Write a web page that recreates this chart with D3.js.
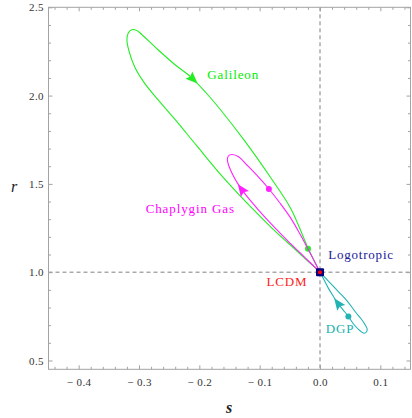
<!DOCTYPE html>
<html><head><meta charset="utf-8">
<script src="https://cdn.jsdelivr.net/npm/d3@7"></script>
<style>
html,body{margin:0;padding:0;background:#fff;}
svg{display:block;}
</style></head>
<body>
<svg id="chart" width="412" height="418"></svg>
<script>
// ---- data ----
const xTicks = [-0.4, -0.3, -0.2, -0.1, 0.0, 0.1];
const yTicks = [0.5, 1.0, 1.5, 2.0, 2.5];

const galileonS = [0, -0.0382, -0.0797, -0.1212, -0.1627, -0.2041, -0.2407, -0.2705, -0.2905, -0.3071, -0.3170, -0.3200,
  -0.3178, -0.3120, -0.3037, -0.2954, -0.2689, -0.2407, -0.2141, -0.1826, -0.1261, -0.0813, -0.0481, -0.0199, 0];
const galileonR = [1.0, 1.120, 1.250, 1.392, 1.545, 1.715, 1.867, 1.984, 2.069, 2.162, 2.258, 2.315,
  2.354, 2.373, 2.369, 2.346, 2.261, 2.176, 2.105, 1.992, 1.749, 1.533, 1.358, 1.137, 1.0];

const chaplyginS = [0, -0.0249, -0.0498, -0.0730, -0.0963, -0.1162, -0.1328, -0.1444, -0.1510, -0.1535, -0.1519, -0.1461,
  -0.1344, -0.1212, -0.1029, -0.0846, -0.0664, -0.0498, -0.0332, -0.0199, -0.0100, 0];
const chaplyginR = [1.0, 1.083, 1.165, 1.245, 1.330, 1.409, 1.483, 1.551, 1.601, 1.635, 1.658, 1.666,
  1.652, 1.607, 1.542, 1.471, 1.392, 1.313, 1.216, 1.131, 1.066, 1.0];

const dgpS = [0, 0.0150, 0.0304, 0.0449, 0.0581, 0.0681, 0.0748, 0.0781, 0.0772, 0.0731, 0.0664, 0.0565,
  0.0470, 0.0382, 0.0294, 0.0216, 0.0138, 0.0066, 0];
const dgpR = [1.0, 0.9452, 0.8904, 0.8379, 0.7774, 0.7362, 0.7023, 0.6797, 0.6627, 0.6542, 0.6684, 0.7023,
  0.7492, 0.7870, 0.8249, 0.8661, 0.9096, 0.9565, 1.0];

const modelNames = ["Galileon", "Chaplygin Gas", "DGP"];
const modelDotS = [-0.0199, -0.0847, 0.0470];
const modelDotR = [1.132, 1.471, 0.749];
const modelArrowS = [-0.2108, -0.1290, 0.0294];
const modelArrowR = [2.094, 1.470, 0.823];
const modelLabelS = [-0.187, -0.289, 0.0095];
const modelLabelR = [2.095, 1.335, 0.655];

const lcdmS = [0], lcdmR = [1.0];
const logoS = [0], logoR = [1.0];
const pointLabels = ["Logotropic", "LCDM"];
const pointLabelS = [0.0135, -0.0885];
const pointLabelR = [1.074, 0.922];

// ---- styles ----
const serif = "'Liberation Serif', 'Times New Roman', 'DejaVu Serif', serif";
const colors = {"Galileon":"#00ee00", "Chaplygin Gas":"#ff00ff", "DGP":"#17b0b0"};
const curveColors = {"Galileon":"#22ee22", "Chaplygin Gas":"#ff22ff", "DGP":"#22b4b4"};
const labelColors = {"Logotropic":"#1a1a9a", "LCDM":"#ff1a1a"};

const svg = d3.select("#chart");
const L = 48.5, R = 410.5, T = 7.3, B = 369.3;
const x = d3.scaleLinear().domain([-0.45, 0.15]).range([L, R]);
const y = d3.scaleLinear().domain([0.45, 2.5]).range([B, T]);

const fmt = d => (d < 0 ? "\u2212 " + Math.abs(d).toFixed(1) : d.toFixed(1));
const xMinor = d3.range(-44, 15, 2).map(v => v / 100).filter(v => !xTicks.some(t => Math.abs(t - v) < 1e-9));
const yMinor = d3.range(5, 25, 1).map(v => v / 10).filter(v => !yTicks.some(t => Math.abs(t - v) < 1e-9));

const frameColor = "#a3a3a3";
svg.append("defs").append("clipPath").attr("id", "clip")
  .append("rect").attr("x", L).attr("y", T).attr("width", R - L).attr("height", B - T);

// dashed reference lines
svg.append("line").attr("x1", x(0)).attr("x2", x(0)).attr("y1", T).attr("y2", B)
  .attr("stroke", "#808080").attr("stroke-width", 1).attr("stroke-dasharray", "4,3");
svg.append("line").attr("x1", L).attr("x2", R).attr("y1", y(1)).attr("y2", y(1))
  .attr("stroke", "#808080").attr("stroke-width", 1).attr("stroke-dasharray", "4,3");

function styleAxis(g) {
  g.select(".domain").remove();
  g.selectAll(".tick line").attr("stroke", frameColor);
  g.selectAll(".tick text").attr("fill", "#333").attr("font-family", serif)
    .attr("font-size", 11).attr("letter-spacing", "0.4px");
}
// major axes
svg.append("g").attr("transform", `translate(0,${B})`)
  .call(d3.axisBottom(x).tickValues(xTicks).tickFormat(fmt).tickSizeInner(-4).tickSizeOuter(0).tickPadding(9)).call(styleAxis);
svg.append("g").attr("transform", `translate(${L},0)`)
  .call(d3.axisLeft(y).tickValues(yTicks).tickFormat(d => d.toFixed(1)).tickSizeInner(-4).tickSizeOuter(0).tickPadding(4.5)).call(styleAxis);
svg.append("g").attr("transform", `translate(0,${T})`)
  .call(d3.axisTop(x).tickValues(xTicks).tickFormat("").tickSizeInner(-4).tickSizeOuter(0)).call(styleAxis);
svg.append("g").attr("transform", `translate(${R},0)`)
  .call(d3.axisRight(y).tickValues(yTicks).tickFormat("").tickSizeInner(-4).tickSizeOuter(0)).call(styleAxis);
// minor ticks
svg.append("g").attr("transform", `translate(0,${B})`)
  .call(d3.axisBottom(x).tickValues(xMinor).tickFormat("").tickSizeInner(-2.5).tickSizeOuter(0)).call(styleAxis);
svg.append("g").attr("transform", `translate(0,${T})`)
  .call(d3.axisTop(x).tickValues(xMinor).tickFormat("").tickSizeInner(-2.5).tickSizeOuter(0)).call(styleAxis);
svg.append("g").attr("transform", `translate(${L},0)`)
  .call(d3.axisLeft(y).tickValues(yMinor).tickFormat("").tickSizeInner(-2.5).tickSizeOuter(0)).call(styleAxis);
svg.append("g").attr("transform", `translate(${R},0)`)
  .call(d3.axisRight(y).tickValues(yMinor).tickFormat("").tickSizeInner(-2.5).tickSizeOuter(0)).call(styleAxis);

// frame
svg.append("rect").attr("x", L).attr("y", T).attr("width", R - L).attr("height", B - T)
  .attr("fill", "none").attr("stroke", frameColor).attr("stroke-width", 1);

// axis titles
svg.append("text").attr("x", 226).attr("y", 413).attr("font-family", serif)
  .attr("font-style", "italic").attr("font-weight", "bold").attr("font-size", 16).attr("fill", "#222").text("s");
svg.append("text").attr("x", 11).attr("y", 192).attr("font-family", serif)
  .attr("font-style", "italic").attr("font-size", 16).attr("fill", "#222").text("r");

// curves
const line = d3.line().x(d => x(d[0])).y(d => y(d[1])).curve(d3.curveCatmullRom.alpha(0.5));
const series = [
  {name: "Galileon", s: galileonS, r: galileonR},
  {name: "Chaplygin Gas", s: chaplyginS, r: chaplyginR},
  {name: "DGP", s: dgpS, r: dgpR}
];
const plot = svg.append("g").attr("clip-path", "url(#clip)");
series.forEach((m, i) => {
  const pts = m.s.map((v, k) => [v, m.r[k]]);
  const path = plot.append("path").datum(pts).attr("d", line)
    .attr("fill", "none").attr("stroke", curveColors[m.name]).attr("stroke-width", 1.1);
  // arrowhead placed on the curve at the point nearest the read arrow location
  const node = path.node();
  const len = node.getTotalLength();
  const ax = x(modelArrowS[i]), ay = y(modelArrowR[i]);
  let best = 0, bd = Infinity;
  for (let l = 0; l <= len; l += 0.5) {
    const p = node.getPointAtLength(l);
    const dd = (p.x - ax) ** 2 + (p.y - ay) ** 2;
    if (dd < bd) { bd = dd; best = l; }
  }
  const p0 = node.getPointAtLength(Math.max(0, best - 3));
  const p1 = node.getPointAtLength(Math.min(len, best + 3));
  const ang = Math.atan2(p1.y - p0.y, p1.x - p0.x) * 180 / Math.PI;
  const pc = node.getPointAtLength(best);
  plot.append("path").attr("d", "M6.5,0 L-5.5,-5 L-3.5,0 L-5.5,5 Z")
    .attr("transform", `translate(${pc.x},${pc.y}) rotate(${ang})`)
    .attr("fill", curveColors[m.name]);
  // marker dot
  plot.append("circle").attr("cx", x(modelDotS[i])).attr("cy", y(modelDotR[i])).attr("r", 3)
    .attr("fill", curveColors[m.name]);
  // label
  svg.append("text").attr("x", x(modelLabelS[i])).attr("y", y(modelLabelR[i]))
    .attr("font-family", serif).attr("font-size", 13).attr("letter-spacing", "0.9px")
    .attr("fill", colors[m.name]).text(m.name);
});

// Logotropic square and LCDM point
plot.selectAll(".logo").data(logoS).enter().append("rect")
  .attr("x", d => x(d) - 4).attr("y", (d, i) => y(logoR[i]) - 4)
  .attr("width", 8).attr("height", 8).attr("rx", 1).attr("fill", "#000080");
plot.selectAll(".lcdm").data(lcdmS).enter().append("circle")
  .attr("cx", d => x(d)).attr("cy", (d, i) => y(lcdmR[i])).attr("r", 2).attr("fill", "#ff0000");
pointLabels.forEach((t, i) => {
  svg.append("text").attr("x", x(pointLabelS[i])).attr("y", y(pointLabelR[i]))
    .attr("font-family", serif).attr("font-size", 13).attr("letter-spacing", "0.8px")
    .attr("fill", labelColors[t]).text(t);
});
</script>
</body></html>
